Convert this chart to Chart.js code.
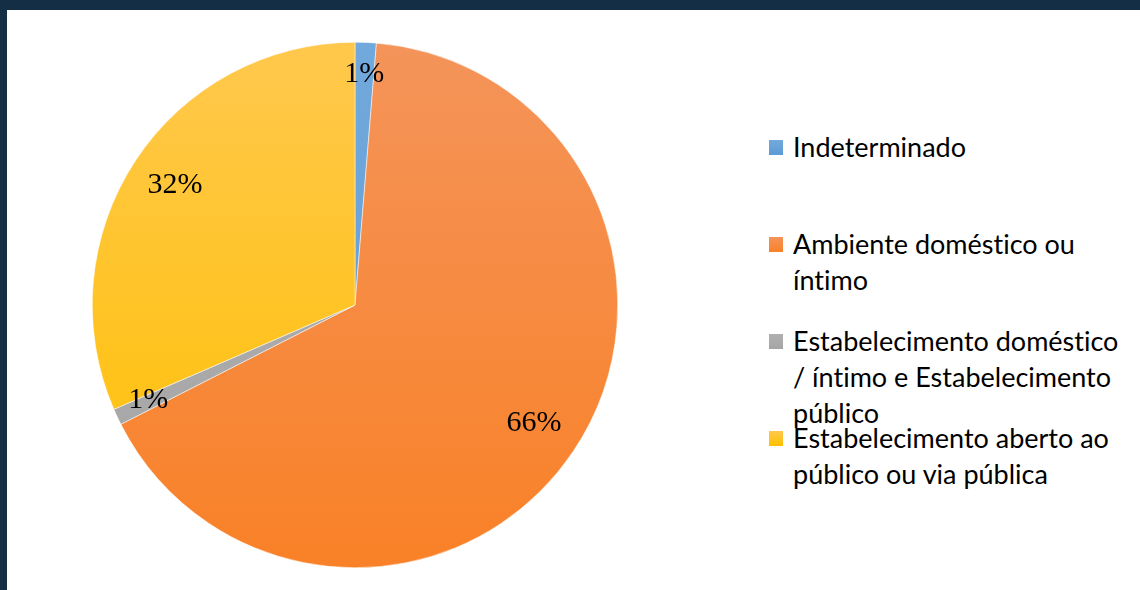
<!DOCTYPE html>
<html>
<head>
<meta charset="utf-8">
<script src="https://cdn.jsdelivr.net/npm/chart.js@4.4.1/dist/chart.umd.min.js"></script>
<style>
    html, body {
        margin: 0;
        padding: 0;
        background: #ffffff;
    }
    #frame {
        position: relative;
        width: 1140px;
        height: 590px;
        box-sizing: border-box;
        border-top: 10px solid #142f45;
        border-left: 7px solid #142f45;
        background: #ffffff;
        overflow: hidden;
    }
    #pie-box {
        position: absolute;
        left: 85px;
        top: 32px;
        width: 526px;
        height: 526px;
    }
    #legenda {
        position: absolute;
        left: 762px;
        top: 119px;
        font-family: Lato, "Open Sans", sans-serif;
        font-size: 27px;
        line-height: 36px;
        color: #000000;
        font-variant-ligatures: none;
        font-feature-settings: "liga" 0;
    }
    .item {
        display: flex;
        align-items: flex-start;
        height: 97px;
    }
    .quadrado {
        width: 14px;
        height: 15px;
        margin-top: 11px;
        margin-right: 10px;
        flex: none;
    }
    .texto {
        width: 334px;
    }
</style>
</head>
<body>
<div id="frame">
    <div id="pie-box"><canvas id="grafico-pizza"></canvas></div>
    <div id="legenda"></div>
</div>

<script>
// dados
const categorias = [
    'Indeterminado',
    'Ambiente doméstico ou íntimo',
    'Estabelecimento doméstico / íntimo e Estabelecimento público',
    'Estabelecimento aberto ao público ou via pública'
];
const valores = [1.3, 66.2, 1.0, 31.5];

// cor clara (topo) e cor escura (base) de cada fatia
const coresTopo = ['#72a9dc', '#f4945a', '#b0b0b0', '#ffc84d'];
const coresBase = ['#5b9bd5', '#f98127', '#a5a5a5', '#ffc000'];

function gradiente(ctx, i) {
    const area = ctx.chart.chartArea;
    if (!area) return coresBase[i];
    const g = ctx.chart.ctx.createLinearGradient(0, area.top, 0, area.bottom);
    g.addColorStop(0, coresTopo[i]);
    g.addColorStop(1, coresBase[i]);
    return g;
}

// rótulos de porcentagem dentro das fatias
const rotulos = {
    id: 'rotulos',
    afterDatasetsDraw(chart) {
        const ctx = chart.ctx;
        const meta = chart.getDatasetMeta(0);
        const total = valores.reduce((a, b) => a + b, 0);
        ctx.save();
        ctx.font = '30px "Liberation Serif", "Times New Roman", serif';
        ctx.fillStyle = '#000000';
        ctx.textAlign = 'center';
        ctx.textBaseline = 'middle';
        meta.data.forEach((arc, i) => {
            const p = arc.getProps(['x', 'y', 'startAngle', 'endAngle', 'outerRadius'], true);
            const meio = (p.startAngle + p.endAngle) / 2;
            const fator = valores[i] / total < 0.05 ? 0.87 : 0.82;
            const r = p.outerRadius * fator;
            const x = p.x + Math.cos(meio) * r;
            const y = p.y + Math.sin(meio) * r - 2;
            const pct = Math.round(valores[i] / total * 100) + '%';
            ctx.fillText(pct, x, y);
        });
        ctx.restore();
    }
};

const grafico = new Chart(document.getElementById('grafico-pizza'), {
    type: 'pie',
    data: {
        labels: categorias,
        datasets: [{
            data: valores,
            backgroundColor: ctx => gradiente(ctx, ctx.dataIndex),
            borderColor: '#ffffff',
            borderWidth: 0.5
        }]
    },
    options: {
        responsive: true,
        maintainAspectRatio: false,
        animation: false,
        layout: { padding: 0 },
        plugins: {
            legend: { display: false },
            tooltip: { enabled: false }
        }
    },
    plugins: [rotulos]
});

// legenda em HTML
const legenda = document.getElementById('legenda');
categorias.forEach((nome, i) => {
    const item = document.createElement('div');
    item.className = 'item';
    const q = document.createElement('div');
    q.className = 'quadrado';
    q.style.background = 'linear-gradient(' + coresTopo[i] + ', ' + coresBase[i] + ')';
    const t = document.createElement('div');
    t.className = 'texto';
    t.textContent = nome;
    item.appendChild(q);
    item.appendChild(t);
    legenda.appendChild(item);
});
</script>
</body>
</html>
